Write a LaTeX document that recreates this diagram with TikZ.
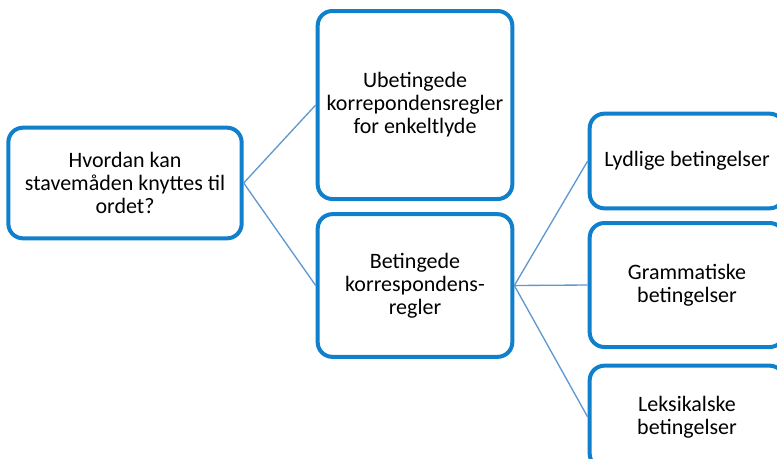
\documentclass[tikz,border=0pt]{standalone}
\usepackage{fontspec}
\setmainfont{Carlito}
\definecolor{boxblue}{RGB}{16,128,204}
\definecolor{linkblue}{RGB}{96,152,208}

\begin{document}
\begin{tikzpicture}[x=0.75pt, y=-0.75pt, every node/.style={font=\fontsize{16.5}{17.3}\selectfont},
	box/.style={draw=boxblue, line width=3pt, rounded corners=11pt, fill=white, align=center, inner sep=2pt},
	conn/.style={draw=linkblue, line width=1pt}]
	\useasboundingbox (0,0) rectangle (777,458);
	\clip (0,0) rectangle (777,458);
	\node[box, minimum width=175pt, minimum height=83pt] (root) at (125,183) {Hvordan kan\\stavemåden knyttes til\\ordet?};
	\node[box, minimum width=146pt, minimum height=141pt] (ub) at (415,105) {Ubetingede\\korrepondensregler\\for enkeltlyde};
	\node[box, minimum width=146pt, minimum height=107pt] (bet) at (415,285.5) {Betingede\\korrespondens-\\regler};
	\node[box, minimum width=146pt, minimum height=71pt] (lyd) at (687,161) {Lydlige betingelser};
	\node[box, minimum width=146pt, minimum height=93pt] (gram) at (687,285) {Grammatiske\\betingelser};
	\node[box, minimum width=146pt, minimum height=77pt] (leks) at (687,417) {Leksikalske\\betingelser};
	\draw[conn] (root.east) -- (ub.west);
	\draw[conn] (root.east) -- (bet.west);
	\draw[conn] (bet.east) -- (lyd.west);
	\draw[conn] (bet.east) -- (gram.west);
	\draw[conn] (bet.east) -- (leks.west);
\end{tikzpicture}
\end{document}
